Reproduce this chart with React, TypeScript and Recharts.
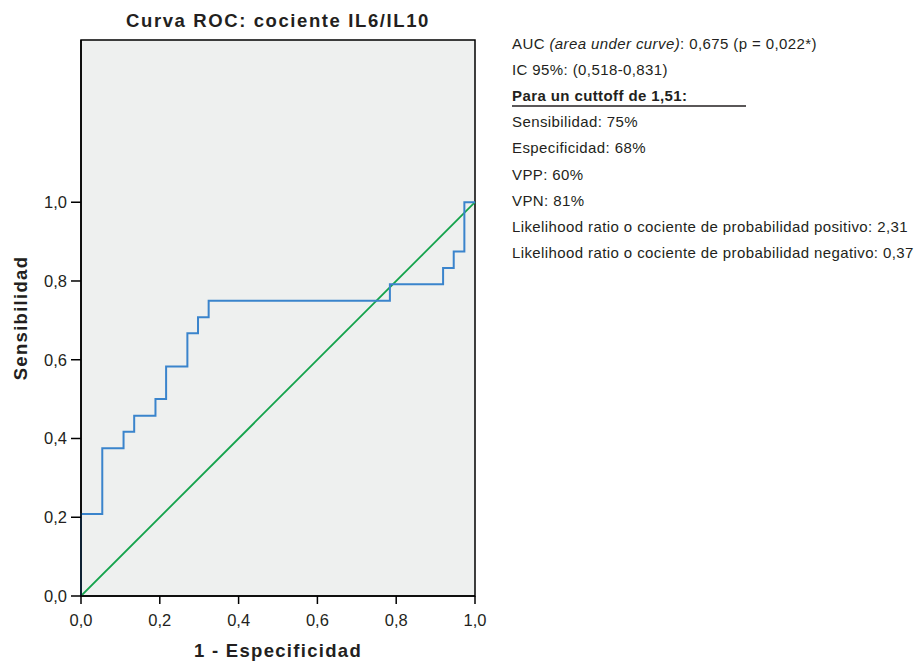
import React from "react";
import { LineChart, Line, XAxis, YAxis, ReferenceArea } from "recharts";

// ROC curve points (1 - especificidad, sensibilidad)
const fpr = [0, 0, 0.054, 0.054, 0.108, 0.108, 0.135, 0.135, 0.189, 0.189, 0.216, 0.216, 0.27, 0.27, 0.297, 0.297, 0.324, 0.324, 0.784, 0.784, 0.919, 0.919, 0.946, 0.946, 0.973, 0.973, 1];
const tpr = [0, 0.208, 0.208, 0.375, 0.375, 0.417, 0.417, 0.458, 0.458, 0.5, 0.5, 0.583, 0.583, 0.667, 0.667, 0.708, 0.708, 0.75, 0.75, 0.792, 0.792, 0.833, 0.833, 0.875, 0.875, 1, 1];

const refFpr = [0, 1];
const refTpr = [0, 1];

const xTicks = [0, 0.2, 0.4, 0.6, 0.8, 1];
const yTicks = [0, 0.2, 0.4, 0.6, 0.8, 1];

const statsLines = [
  "IC 95%: (0,518-0,831)",
  "Para un cuttoff de 1,51:",
  "Sensibilidad: 75%",
  "Especificidad: 68%",
  "VPP: 60%",
  "VPN: 81%",
  "Likelihood ratio o cociente de probabilidad positivo: 2,31",
  "Likelihood ratio o cociente de probabilidad negativo: 0,37",
];

const rocData = fpr.map((x, i) => ({ fpr: x, tpr: tpr[i] }));
const refData = refFpr.map((x, i) => ({ fpr: x, tpr: refTpr[i] }));

const fmt = (v: number) => v.toFixed(1).replace(".", ",");
const font = "'Liberation Sans', Arial, Helvetica, sans-serif";
const ink = "#231f20";
const tickStyle = { fontSize: 16.5, fill: ink, fontFamily: font };

export default function App() {
  const lineY = (i: number) => 49 + i * 26.1;
  return (
    <div style={{ position: "absolute", left: 0, top: 0, width: 917, height: 662, background: "#fff" }}>
      <LineChart width={917} height={662} margin={{ top: 40, right: 442, bottom: 16, left: 21 }}>
        <XAxis
          type="number"
          dataKey="fpr"
          domain={[0, 1]}
          ticks={xTicks}
          tickFormatter={fmt}
          tick={tickStyle}
          tickSize={8}
          tickMargin={10}
          height={50}
          stroke="#000"
          axisLine={{ stroke: "#000", strokeWidth: 1.5 }}
          tickLine={{ stroke: "#000", strokeWidth: 1.5 }}
        />
        <YAxis
          type="number"
          dataKey="tpr"
          domain={[0, 1.412]}
          allowDataOverflow
          ticks={yTicks}
          tickFormatter={fmt}
          tick={tickStyle}
          tickSize={10}
          tickMargin={4}
          width={60}
          axisLine={{ stroke: "#000", strokeWidth: 1.5 }}
          tickLine={{ stroke: "#000", strokeWidth: 1.5 }}
        />
        <ReferenceArea x1={0} x2={1} y1={0} y2={1.412} fill="#eef0ef" fillOpacity={1} stroke="#000" strokeWidth={1.5} />
        <Line data={refData} dataKey="tpr" type="linear" stroke="#14a34c" strokeWidth={1.8} dot={false} isAnimationActive={false} />
        <Line data={rocData} dataKey="tpr" type="linear" stroke="#3a84cc" strokeWidth={2} dot={false} isAnimationActive={false} />
      </LineChart>
      <svg width={917} height={662} style={{ position: "absolute", left: 0, top: 0, pointerEvents: "none" }}>
        <text x={278} y={27} textAnchor="middle" fontFamily={font} fontWeight="bold" fontSize={18.5} letterSpacing={1.6} fill={ink}>
          Curva ROC: cociente IL6/IL10
        </text>
        <text x={278} y={657} textAnchor="middle" fontFamily={font} fontWeight="bold" fontSize={18.5} letterSpacing={1.3} fill={ink}>
          1 - Especificidad
        </text>
        <text x={27} y={318} textAnchor="middle" transform="rotate(-90 27 318)" fontFamily={font} fontWeight="bold" fontSize={18.5} letterSpacing={1.3} fill={ink}>
          Sensibilidad
        </text>
        <text x={512} y={lineY(0)} fontFamily={font} fontSize={15} letterSpacing={0.4} fill={ink}>
          AUC <tspan fontStyle="italic">(area under curve)</tspan>: 0,675 (p = 0,022*)
        </text>
        {statsLines.map((s, i) => (
          <text key={s} x={512} y={lineY(i + 1)} fontFamily={font} fontSize={15} letterSpacing={0.4} fill={ink} fontWeight={i === 1 ? "bold" : "normal"}>
            {s}
          </text>
        ))}
        <line x1={512} x2={746} y1={106} y2={106} stroke={ink} strokeWidth={1.5} />
      </svg>
    </div>
  );
}
